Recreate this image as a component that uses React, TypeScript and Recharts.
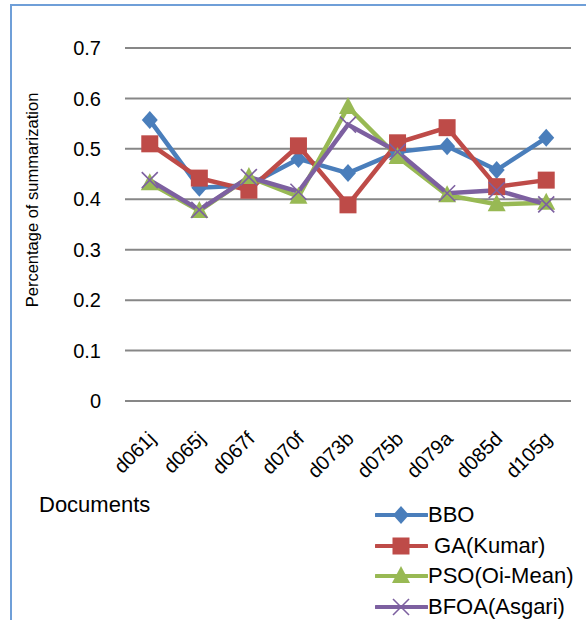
import { LineChart, Line, XAxis, YAxis, CartesianGrid } from "recharts";

const categories = ["d061j", "d065j", "d067f", "d070f", "d073b", "d075b", "d079a", "d085d", "d105g"];
const bbo = [0.557, 0.423, 0.428, 0.48, 0.452, 0.494, 0.505, 0.458, 0.522];
const ga = [0.51, 0.442, 0.418, 0.506, 0.389, 0.512, 0.542, 0.425, 0.438];
const pso = [0.432, 0.377, 0.444, 0.405, 0.583, 0.484, 0.408, 0.39, 0.393];
const bfoa = [0.438, 0.379, 0.444, 0.415, 0.548, 0.494, 0.412, 0.418, 0.39];
const yTicks = [0, 0.1, 0.2, 0.3, 0.4, 0.5, 0.6, 0.7];

const FONT = "'Liberation Sans', Arial, sans-serif";

const SERIES = [
  { key: "bbo", name: "BBO", color: "#4a7ebb", marker: "diamond" },
  { key: "ga", name: " GA(Kumar)", color: "#be4b48", marker: "square" },
  { key: "pso", name: "PSO(Oi-Mean)", color: "#98b954", marker: "triangle" },
  { key: "bfoa", name: "BFOA(Asgari)", color: "#7d60a0", marker: "cross" },
];

const data = categories.map((doc, i) => ({
  doc,
  bbo: bbo[i],
  ga: ga[i],
  pso: pso[i],
  bfoa: bfoa[i],
}));

function Marker({ type, cx, cy, color }: { type: string; cx: number; cy: number; color: string }) {
  if (type === "diamond") {
    return <polygon points={`${cx},${cy - 9} ${cx + 8},${cy} ${cx},${cy + 9} ${cx - 8},${cy}`} fill={color} />;
  }
  if (type === "square") {
    return <rect x={cx - 8.5} y={cy - 8.5} width={17} height={17} fill={color} />;
  }
  if (type === "triangle") {
    return <polygon points={`${cx},${cy - 10} ${cx + 9},${cy + 7} ${cx - 9},${cy + 7}`} fill={color} />;
  }
  return (
    <g stroke={color} strokeWidth={1.6}>
      <line x1={cx - 8} y1={cy - 8} x2={cx + 8} y2={cy + 8} />
      <line x1={cx - 8} y1={cy + 8} x2={cx + 8} y2={cy - 8} />
    </g>
  );
}

function XTick({ x, y, payload }: any) {
  return (
    <text
      x={x + 7}
      y={y + 39}
      transform={`rotate(-45, ${x + 7}, ${y + 39})`}
      textAnchor="end"
      fontSize={20}
      fontFamily={FONT}
      fill="#000"
    >
      {payload.value}
    </text>
  );
}

export default function App() {
  return (
    <div style={{ position: "absolute", left: 0, top: 0, width: 586, height: 620, background: "#fff", overflow: "hidden" }}>
      <div
        style={{
          position: "absolute",
          left: 10,
          top: 4,
          right: -4,
          bottom: -4,
          borderLeft: "2px solid #6f9fd8",
          borderTop: "2px solid #6f9fd8",
        }}
      />
      <div style={{ position: "absolute", left: 0, top: 0 }}>
        <LineChart width={586} height={620} data={data} margin={{ top: 48, right: 15, left: 65, bottom: 159 }}>
          <CartesianGrid vertical={false} stroke="#878787" strokeWidth={2} />
          <XAxis
            dataKey="doc"
            scale="band"
            height={60}
            axisLine={false}
            tickLine={false}
            tickSize={0}
            tickMargin={0}
            interval={0}
            tick={<XTick />}
            label={{
              content: () => (
                <text x={39} y={512} fontSize={22} fontFamily={FONT} fill="#000">
                  Documents
                </text>
              ),
            }}
          />
          <YAxis
            width={60}
            domain={[0, 0.7]}
            ticks={yTicks}
            axisLine={false}
            tickLine={false}
            tickSize={0}
            tickMargin={24}
            tickFormatter={(v: number) => (v === 0 ? "0" : String(v))}
            tick={{ fontSize: 20, fontFamily: FONT, fill: "#000" }}
            label={{
              content: () => (
                <text
                  x={38}
                  y={200}
                  transform="rotate(-90, 38, 200)"
                  textAnchor="middle"
                  fontSize={16.5}
                  fontFamily={FONT}
                  fill="#000"
                >
                  Percentage of summarization
                </text>
              ),
            }}
          />
          {SERIES.map((s) => (
            <Line
              key={s.key}
              dataKey={s.key}
              name={s.name}
              stroke={s.color}
              strokeWidth={4.5}
              isAnimationActive={false}
              dot={(p: any) => (
                <Marker key={`${s.key}-${p.index}`} type={s.marker} cx={p.cx} cy={p.cy} color={s.color} />
              )}
              activeDot={false}
            />
          ))}
        </LineChart>
      </div>
      {SERIES.map((s, i) => (
        <div
          key={s.key}
          style={{
            position: "absolute",
            left: 375,
            top: 515 + i * 30.7 - 13,
            height: 26,
            display: "flex",
            alignItems: "center",
            fontFamily: FONT,
            fontSize: 22,
            whiteSpace: "pre",
          }}
        >
          <svg width={53} height={26}>
            <line x1={1} y1={13} x2={52} y2={13} stroke={s.color} strokeWidth={4} strokeLinecap="round" />
            <Marker type={s.marker} cx={26} cy={13} color={s.color} />
          </svg>
          <span>{s.name}</span>
        </div>
      ))}
    </div>
  );
}
